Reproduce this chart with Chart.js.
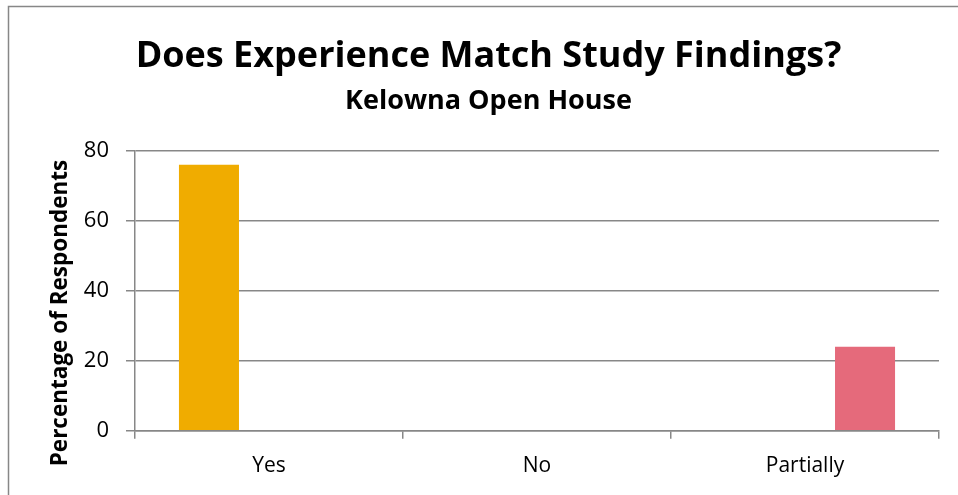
<!DOCTYPE html>
<html>
<head>
<meta charset="utf-8">
<title>Does Experience Match Study Findings?</title>
<script src="https://cdn.jsdelivr.net/npm/chart.js@4/dist/chart.umd.min.js"></script>
<style>
  html, body { margin: 0; padding: 0; background: #fff; }
  #wrap { position: relative; width: 958px; height: 495px; }
</style>
</head>
<body>
<div id="wrap"><canvas id="chart" width="958" height="495"></canvas></div>
<script>
const categories = ['Yes', 'No', 'Partially'];
const percentages = [76, 0, 24];
const barColors = ['#F0AC00', '#7F9EC7', '#E56A7B'];
const yTicks = [0, 20, 40, 60, 80];

const FONT = '"Open Sans", Lato, sans-serif';
const AXIS_GREY = '#878787';

// one series per answer so each bar sits in its own slot of the group
const datasets = categories.map((name, i) => ({
  label: name,
  data: categories.map((_, j) => (j === i ? percentages[i] : null)),
  backgroundColor: barColors[i],
  borderWidth: 0,
  categoryPercentage: 0.672,
  barPercentage: 1.0,
}));

// outer frame of the chart object and the rotated value-axis caption
const frame = {
  id: 'frame',
  beforeDraw(chart) {
    const { ctx } = chart;
    ctx.save();
    ctx.strokeStyle = AXIS_GREY;
    ctx.lineWidth = 1.5;
    ctx.strokeRect(8.5, 6.5, 960, 500);
    ctx.restore();
  },
  afterDraw(chart) {
    const { ctx } = chart;
    ctx.save();
    ctx.translate(61, 313);
    ctx.rotate(-Math.PI / 2);
    ctx.font = 'bold 22.5px ' + FONT;
    ctx.fillStyle = '#000';
    ctx.textAlign = 'center';
    ctx.textBaseline = 'middle';
    ctx.fillText('Percentage of Respondents', 0, 0);
    ctx.restore();
  },
};

new Chart(document.getElementById('chart'), {
  type: 'bar',
  data: { labels: categories, datasets },
  plugins: [frame],
  options: {
    responsive: false,
    animation: false,
    events: [],
    layout: { padding: { left: 38, right: 19, top: 0, bottom: 0 } },
    scales: {
      x: {
        afterFit: (scale) => { scale.height = 64.3; },
        grid: {
          offset: true,
          drawOnChartArea: false,
          drawTicks: true,
          tickLength: 8,
          color: AXIS_GREY,
          lineWidth: 1.5,
        },
        border: { display: true, color: AXIS_GREY, width: 1.5 },
        ticks: { color: '#000', padding: 15, font: { family: FONT, size: 21 } },
      },
      y: {
        min: 0,
        max: 80,
        afterFit: (scale) => { scale.width = 97; },
        afterBuildTicks: (scale) => { scale.ticks = yTicks.map(v => ({ value: v })); },
        grid: { color: AXIS_GREY, lineWidth: 1.5, tickLength: 9 },
        border: { display: true, color: AXIS_GREY, width: 1.5 },
        ticks: { color: '#000', padding: 17, font: { family: FONT, size: 22 } },
      },
    },
    plugins: {
      legend: { display: false },
      tooltip: { enabled: false },
      title: {
        display: true,
        text: 'Does Experience Match Study Findings?',
        color: '#000',
        font: { family: FONT, size: 36, weight: 'bold' },
        padding: { top: 35, bottom: 0 },
      },
      subtitle: {
        display: true,
        text: 'Kelowna Open House',
        color: '#000',
        font: { family: FONT, size: 27, weight: 'bold' },
        padding: { top: 7.3, bottom: 32.8 },
      },
    },
  },
});
</script>
</body>
</html>
